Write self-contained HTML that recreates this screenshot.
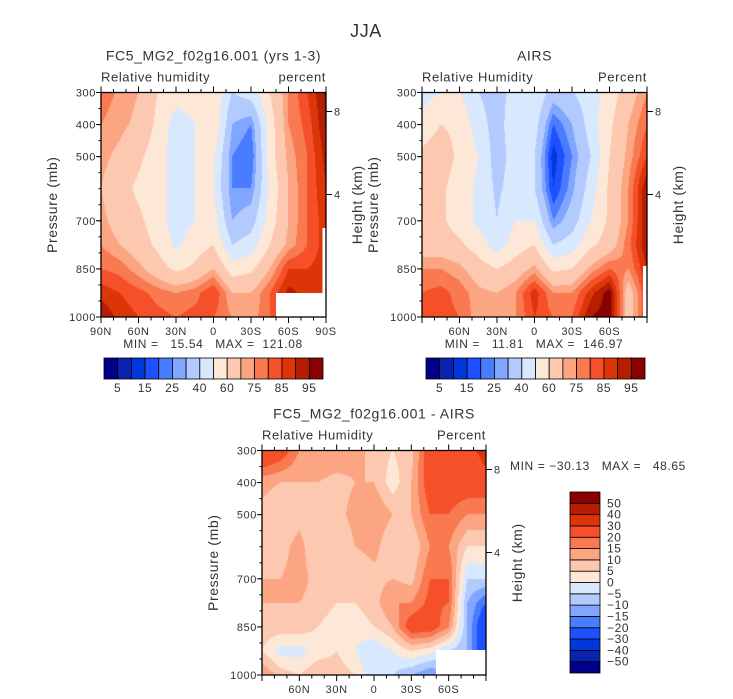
<!DOCTYPE html>
<html><head><meta charset="utf-8"><style>
body{margin:0;background:#fff;width:733px;height:699px;overflow:hidden;position:relative;font-family:"Liberation Sans",sans-serif}
canvas{position:absolute}
svg{position:absolute;left:0;top:0}
text{font-family:"Liberation Sans",sans-serif;fill:#333;white-space:pre;letter-spacing:0.6px}
</style></head><body>
<canvas id="c1" width="225" height="225" style="left:101px;top:92px"></canvas>
<canvas id="c2" width="225" height="225" style="left:422px;top:92px"></canvas>
<canvas id="c3" width="224" height="225" style="left:262px;top:450px"></canvas>
<svg id="s" width="733" height="699"></svg>
<script>
const lats=[90,75,60,45,30,15,0,-15,-30,-45,-60,-75,-90];
const pres=[300,400,500,600,700,775,850,925,1000];
const modelRH=[[78,75,72,70,72,75,80,88,95],[74,72,68,64,66,70,78,85,88],[70,68,62,58,62,65,72,82,85],[60,58,55,55,55,58,65,78,82],[55,45,45,45,45,48,58,75,80],[55,50,50,50,50,55,62,78,82],[58,60,52,50,55,60,70,85,80],[40,30,25,25,30,40,55,70,75],[45,25,20,25,35,45,58,70,72],[60,55,55,52,55,60,70,80,80],[75,75,72,70,70,72,85,92,92],[85,82,80,80,80,80,85,88,88],[96,95,92,90,88,88,88,88,88]];
const airsRH=[[45,55,62,62,62,65,75,80,80],[50,60,65,62,62,65,75,82,82],[50,58,58,55,55,62,72,78,80],[40,45,50,48,48,55,65,72,72],[35,35,35,38,40,45,60,70,70],[45,48,45,45,50,55,65,75,75],[50,45,40,40,50,60,72,88,85],[35,20,12,15,25,40,58,75,80],[40,30,25,28,35,45,60,75,80],[45,45,40,45,50,58,72,88,95],[55,58,60,62,62,65,80,98,98],[65,70,72,75,75,78,75,65,65],[75,80,85,95,95,95,90,85,85]];
const diffRH=[[30,12,8,8,10,10,8,5,15],[25,10,5,8,10,10,8,-2,8],[15,10,8,12,12,10,8,-2,5],[15,10,5,5,8,8,5,2,10],[15,8,8,5,5,5,2,5,8],[12,10,12,10,5,5,2,0,5],[8,10,15,12,8,8,5,-5,-5],[5,2,10,5,10,15,10,0,-5],[8,10,10,5,8,15,25,5,-10],[25,25,20,15,20,22,25,2,-15],[25,25,20,15,20,20,15,-5,-10],[25,25,15,5,-5,-10,-10,-10,-10],[35,25,15,5,-5,-20,-30,-30,-30]];
const rhLevels=[5,10,15,20,25,30,40,50,60,70,75,80,85,90,95];
const rhLabels=["5","15","25","40","60","75","85","95"];
const diffLevels=[-50,-40,-30,-20,-15,-10,-5,0,5,10,15,20,30,40,50];
const diffLabels=["50","40","30","20","15","10","5","0","\u22125","\u221210","\u221215","\u221220","\u221230","\u221240","\u221250"];
const latTicks=[90,60,30,0,-30,-60,-90];
const latNames=["90N","60N","30N","0","30S","60S","90S"];
const presTicks=[300,400,500,700,850,1000];
const colors=["#00008b","#0a22b0","#0038dc","#1e50ff","#4a7cff","#80a6ff","#b3caff","#d8e8ff","#fde8d8","#fdc8b0","#fca582","#f97a50","#f5502a","#dc3508","#b51e00","#8b0000"];

function interp(data,lat,p){
  let fi=(90-lat)/15; let i=Math.min(11,Math.floor(fi)); let tx=fi-i;
  let j=0; while(j<pres.length-2 && p>pres[j+1]) j++;
  let ty=(p-pres[j])/(pres[j+1]-pres[j]);
  const a=data[i][j],b=data[i+1][j],c=data[i][j+1],d=data[i+1][j+1];
  return (a*(1-tx)+b*tx)*(1-ty)+(c*(1-tx)+d*tx)*ty;
}
function lvl(v,levels){let k=0;while(k<levels.length&&v>=levels[k])k++;return k;}
function paint(id,data,levels){
  const cv=document.getElementById(id),ctx=cv.getContext('2d');
  const W=cv.width,H=cv.height,img=ctx.createImageData(W,H);
  const rgb=colors.map(c=>[parseInt(c.substr(1,2),16),parseInt(c.substr(3,2),16),parseInt(c.substr(5,2),16)]);
  for(let y=0;y<H;y++)for(let x=0;x<W;x++){
    const lat=90-180*(x+0.5)/W, p=300+700*(y+0.5)/H;
    const c=rgb[lvl(interp(data,lat,p),levels)];const o=(y*W+x)*4;
    img.data[o]=c[0];img.data[o+1]=c[1];img.data[o+2]=c[2];img.data[o+3]=255;}
  ctx.putImageData(img,0,0);
}
paint('c1',modelRH,rhLevels);paint('c2',airsRH,rhLevels);paint('c3',diffRH,diffLevels);

const S=document.getElementById('s'),NS="http://www.w3.org/2000/svg";
function el(t,a,txt){const e=document.createElementNS(NS,t);for(const k in a)e.setAttribute(k,a[k]);if(txt!==undefined)e.textContent=txt;S.appendChild(e);return e;}
function txt(x,y,s,size,anchor,name,rot){const a={x:x,y:y,'font-size':size,'text-anchor':anchor||'middle'};if(rot)a.transform='rotate(-90 '+x+' '+y+')';const e=el('text',a,s);return e;}

function panel(L,T,W,H,pfx,title,left,right,showEnds,whites){
  const xs=lat=>L+(90-lat)/180*W, ys=p=>T+(p-300)/700*H;
  whites.forEach(w=>{const r=el('rect',{x:w[0],y:w[1],width:w[2],height:w[3],fill:'#fff'});});
  const f=el('rect',{x:L,y:T,width:W,height:H,fill:'none',stroke:'#000','stroke-width':1.3});
  
  for(let lat=90;lat>=-90;lat-=10){const x=xs(lat);const maj=(lat%30===0);
    el('line',{x1:x,y1:T,x2:x,y2:T-(maj?6:3.5),stroke:'#000'});el('line',{x1:x,y1:T+H,x2:x,y2:T+H+(maj?6:3.5),stroke:'#000'});}
  latTicks.forEach((lat,i)=>{if(!showEnds&&(i===0||i===6))return;txt(xs(lat),T+H+18,latNames[i],11,'middle',pfx+'-x-tick-label');});
  presTicks.forEach(p=>{el('line',{x1:L,y1:ys(p),x2:L-5,y2:ys(p),stroke:'#000'});txt(L-5,ys(p)+4,String(p),11,'end',pfx+'-y-tick-label');});
  for(let p=300;p<=1000;p+=50){el('line',{x1:L,y1:ys(p),x2:L-2.5,y2:ys(p),stroke:'#000'});}
  [[8,19],[4,102]].forEach(h=>{el('line',{x1:L+W,y1:T+h[1],x2:L+W+6,y2:T+h[1],stroke:'#000'});txt(L+W+8,T+h[1]+4,String(h[0]),11,'start',pfx+'-height-tick-label');});
  txt(L+W/2,T-32,title,14,'middle',pfx+'-title');
  txt(L,T-11,left,13,'start',pfx+'-variable-label');
  txt(L+W,T-11,right,13,'end',pfx+'-units-label');
  txt(L-44,T+H/2,'Pressure (mb)',14,'middle',pfx+'-y-axis-title',true);
  txt(L+W+36,T+H/2,'Height (km)',14,'middle',pfx+'-right-axis-title',true);
}
panel(101,92.5,225,224.5,'model','FC5_MG2_f02g16.001 (yrs 1-3)','Relative humidity','percent',true,[[276,293,50,24],[322.5,228,3.5,65]]);
panel(422,92.5,225,224.5,'airs','AIRS','Relative Humidity','Percent',false,[[643,266,4,51]]);
panel(262,450.5,224,224.5,'diff','FC5_MG2_f02g16.001 - AIRS','Relative Humidity','Percent',false,[[436,650,50,25]]);
txt(366,37,'JJA',18,'middle','main-title');
txt(213,348,'MIN =   15.54   MAX =  121.08',12,'middle','model-min-max');
txt(534,348,'MIN =   11.81   MAX =  146.97',12,'middle','airs-min-max');
txt(510,470,'MIN = \u221230.13   MAX =   48.65',12,'start','diff-min-max');

function hbar(L,pfx){const w=(219)/16;
  colors.forEach((c,i)=>{const r=el('rect',{x:L+i*w,y:358,width:w,height:21,fill:c,stroke:'#000','stroke-width':0.8});});
  rhLabels.forEach((s,k)=>txt(L+(2*k+1)*w,392,s,12,'middle',pfx+'-colorbar-label'));}
hbar(104,'model');hbar(426,'airs');
const vh=181/16;
colors.forEach((c,i)=>{const r=el('rect',{x:570,y:492+(15-i)*vh,width:30,height:vh,fill:c,stroke:'#000','stroke-width':0.8});});
diffLabels.forEach((s,k)=>txt(607,492+(k+1)*vh+4,s,12,'start','diff-colorbar-label'));
</script>
</body></html>
